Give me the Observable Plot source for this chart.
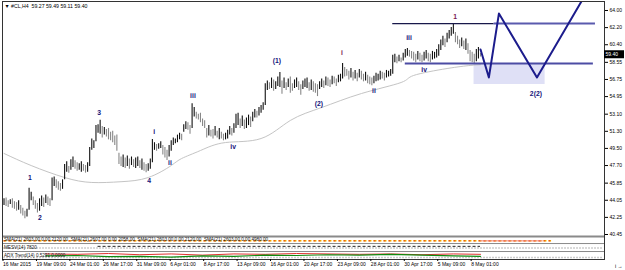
<!DOCTYPE html>
<html><head><meta charset="utf-8">
<script src="https://cdn.jsdelivr.net/npm/d3@7"></script>
<script src="https://cdn.jsdelivr.net/npm/@observablehq/plot@0.6"></script>
<style>body{margin:0;background:#fff}svg{display:block}</style>
</head><body><div id="chart"></div>
<script>
// ---- H4 bars (#CL), one entry per bar ----
const highs = [
44.2,44.3,44.0,44.1,44.2,43.9,43.8,44.0,43.5,43.2,42.9,43.1,
45.3,44.9,44.4,44.0,43.7,44.2,44.5,44.3,44.6,44.4,44.2,
46.4,46.5,46.2,46.0,45.8,46.2,
47.8,48.1,47.6,48.3,48.6,48.2,48.0,47.9,48.1,47.8,47.7,48.0,
49.6,50.5,50.3,51.9,52.0,52.45,
51.8,51.7,51.5,51.6,51.2,51.3,50.8,50.9,
49.0,48.6,48.8,48.5,48.7,48.4,48.6,48.3,48.5,48.6,48.2,48.4,48.0,47.8,47.9,
48.4,50.45,
50.1,49.9,50.0,50.2,49.8,49.6,49.3,
49.8,50.3,50.6,50.5,50.9,51.1,51.0,52.0,52.3,52.2,51.9,
54.2,
53.8,53.3,53.1,53.2,52.6,52.4,
51.6,51.9,51.4,51.5,51.8,51.3,51.6,51.2,51.0,51.1,
51.4,51.8,51.6,52.1,53.1,53.2,52.6,52.9,52.5,52.7,53.0,52.8,53.3,53.6,53.4,53.8,54.0,54.3,
56.3,
56.6,56.4,56.9,56.7,56.5,57.0,57.48,56.6,56.9,56.4,56.8,57.0,56.3,56.7,56.9,56.5,56.2,56.6,56.8,56.9,56.4,56.7,56.5,56.3,
56.2,
56.5,56.8,56.6,57.0,56.9,56.7,57.1,57.0,56.8,57.2,57.3,
58.43,
58.0,57.8,57.6,57.9,57.5,57.7,57.4,57.8,57.6,57.3,57.5,57.2,57.0,56.9,
57.1,57.4,57.3,57.6,57.5,57.4,57.7,57.6,57.8,
59.3,
59.4,59.1,59.3,59.0,59.5,
59.9,60.0,59.8,59.7,
59.6,59.4,59.7,59.5,59.3,59.6,59.8,59.5,59.4,59.7,59.6,59.9,
60.4,60.9,61.3,61.0,61.6,61.9,62.2,62.63,
61.7,61.3,60.9,61.1,60.8,61.0,60.5,
59.8,59.6,59.4,59.9,60.1,59.49
];
const lows = [
43.5,43.4,43.3,43.6,43.2,43.1,42.9,43.0,42.6,42.4,42.1,42.3,
43.0,44.0,43.5,43.1,42.7,42.9,43.4,43.3,43.7,43.5,43.4,
44.0,45.5,45.3,45.1,45.0,45.2,
46.2,47.0,46.9,47.2,47.5,47.3,47.1,47.2,47.0,47.1,46.9,47.0,
47.6,49.3,49.5,50.2,51.1,51.0,
50.6,50.9,50.7,50.4,50.3,50.1,49.8,49.2,
47.8,47.6,47.5,47.4,47.6,47.3,47.7,47.5,47.4,47.6,47.4,47.2,47.1,46.95,47.1,
47.3,48.0,
49.3,49.2,49.4,49.5,48.8,48.5,48.23,
48.6,49.2,49.8,50.0,50.1,50.4,50.3,51.2,51.5,51.4,51.0,
51.6,
52.8,52.6,52.5,52.2,51.8,51.6,
50.6,50.8,50.7,50.5,50.8,50.6,50.4,50.5,50.3,50.4,
50.5,50.9,50.8,51.1,51.6,51.9,51.6,51.8,51.5,51.6,51.9,51.7,52.3,52.7,52.7,52.9,53.2,53.5,
54.0,
55.6,55.7,55.8,55.5,55.7,56.0,55.9,55.2,55.8,55.6,55.9,55.3,55.5,55.8,55.9,55.6,55.1,55.7,55.9,55.8,55.5,55.6,55.4,55.3,
54.95,
55.7,55.9,55.8,56.1,56.0,55.9,56.2,56.3,56.0,56.4,56.5,
56.8,
57.0,57.1,56.7,56.9,56.6,56.8,56.5,56.9,56.7,56.5,56.6,56.3,56.2,56.1,
56.3,56.5,56.6,56.7,56.8,56.6,56.9,57.0,57.1,
57.3,
58.5,58.4,58.6,58.5,58.7,
59.0,59.2,59.1,58.9,
58.7,58.5,58.8,58.6,58.5,58.7,58.9,58.6,58.5,58.8,58.9,59.0,
59.2,59.8,60.3,60.1,60.6,61.0,61.3,61.5,
60.6,60.4,60.0,60.2,59.9,59.8,59.4,
58.6,58.5,58.4,58.6,58.9,59.11
];

// ---- moving average (grey) ----
const maIdx = [0,13,29,42,56,69,80,85,94,106,123,137,152,171,190,196,212,223,228];
const maVal = [48.97,47.7,46.44,45.92,46.0,46.44,47.7,48.44,49.28,50.12,50.54,52.44,53.8,55.27,56.43,57.17,57.9,58.22,58.3];

// ---- wave labels ----
const waveText  = ["1","2","3","4","i","ii","iii","iv","(1)","(2)","i","ii","iii","iv","1","2(2)"];
const waveIdx   = [12.4,17.2,45.5,69.4,71.8,79.4,90.4,109.6,130.6,150.7,161.7,177,193.8,201,215.8,254.5];
const wavePrice = [46.44,42.24,53.28,46.13,51.28,48.02,55.06,49.70,58.74,54.22,59.58,55.59,61.16,57.8,63.37,55.27];
const waveMinor = [false,false,false,false,false,false,false,false,false,false,true,false,false,false,true,false];

// ---- projection / levels ----
const projIdx   = [228,232,236.8,255,278];
const projPrice = [59.9,56.96,63.68,56.96,65.6];
const upperLevel = 62.63, lowerLevel = 58.43;
const upperThin = [186,234.5], upperThick = [234.5,283];
const lowerSpan = [192,282];
const zoneIdx = [224.9,258.9], zonePrice = [56.22,58.43];

// ---- axes ----
const dateLabels = ["16 Mar 2015","19 Mar 09:00","24 Mar 01:00","26 Mar 17:00","31 Mar 09:00","6 Apr 01:00","8 Apr 17:00","13 Apr 09:00","16 Apr 01:00","20 Apr 17:00","23 Apr 09:00","28 Apr 01:00","30 Apr 17:00","5 May 09:00","8 May 01:00"];
const dateIdx = [0,16,32,48,64,80,96,112,128,144,160,176,192,208,224];
const priceTicks = [64.00,62.20,60.40,58.55,56.75,54.95,53.10,51.30,49.50,47.70,45.85,44.05,42.25,40.45];
const lastPrice = 59.40;
const header = "▼ #CL,H4  59.27 59.49 59.11 59.40";

// ---- indicator sub-windows (value = fraction of the sub-window height from its top) ----
const panelTops = [40.24,39.50,38.66], panelBottoms = [39.50,38.66,37.82];
const panelText = ["SMA(21) 2603.00 0.00 2120.00  SMA(21) 2607.00 0.00 2058.00  SMA(21) 2603.00 0.00 2120.00  SMA(21) 2603.00 0.00 4980.00","MESV(14) 7820","ADX Trend(14) 0.5291 0.0000"];
const adxIdx = [20,35,50,65,80,95,110,125,140,155,170,185,200,215,228];
const adxGreen = [0.55,0.5,0.65,0.6,0.7,0.55,0.6,0.45,0.5,0.4,0.45,0.35,0.45,0.55,0.6];
const adxRed   = [0.3,0.35,0.25,0.4,0.3,0.45,0.3,0.35,0.25,0.3,0.35,0.3,0.4,0.3,0.35];

const bars = highs.map((h,i)=>({i, h, l: lows[i], dn: i>0 && (h+lows[i]) < (highs[i-1]+lows[i-1])}));
const ma = maIdx.map((i,k)=>({i, v: maVal[k]}));
const waves = waveText.map((t,k)=>({t, i: waveIdx[k], p: wavePrice[k], minor: waveMinor[k]}));
const proj = projIdx.map((i,k)=>({i, p: projPrice[k]}));
const pv = (k, f) => panelTops[k] - f*(panelTops[k]-panelBottoms[k]);
const green = adxIdx.map((i,k)=>({i, p: pv(2, adxGreen[k])}));
const red = adxIdx.map((i,k)=>({i, p: pv(2, adxRed[k])}));

const pxPerBar = 2.09;
const x0 = -0.72;
const xDomain = [x0, x0 + 602/pxPerBar];
const font = "Liberation Sans, Arial, sans-serif";

const chart = Plot.plot({
  width: 625, height: 270,
  marginLeft: 2, marginRight: 21, marginTop: 1, marginBottom: 11,
  style: {fontFamily: font, background: "#fff", overflow: "visible"},
  x: {domain: xDomain},
  y: {domain: [37.822, 64.946]},
  marks: [
    // sub-windows
    Plot.ruleY([panelTops[0]], {stroke: "#8a8a8a", strokeWidth: 2}),
    Plot.ruleY([panelTops[1], panelTops[2]], {stroke: "#8a8a8a", strokeWidth: 1}),
    Plot.ruleY([pv(0,0.62)], {x1: 0, x2: 262, stroke: "#ffd200", strokeWidth: 1.5, strokeDasharray: "3,2"}),
    Plot.ruleY([pv(0,0.62)], {x1: 0, x2: 262, stroke: "#e0201c", strokeWidth: 1, strokeDasharray: "2,3"}),
    Plot.ruleY([pv(0,0.62)], {x1: 228, x2: 258, stroke: "#f08080", strokeWidth: 1}),
    Plot.ruleY([pv(1,0.55)], {x1: 0, x2: 287, stroke: "#9a9a9a", strokeWidth: 1.5, strokeDasharray: "1,2"}),
    Plot.ruleY([pv(1,0.35)], {x1: 45, x2: 228, stroke: "#222", strokeWidth: 1, strokeDasharray: "3,2"}),
    Plot.ruleY([pv(2,0.75)], {x1: 0, x2: 287, stroke: "#9a9a9a", strokeWidth: 1.5, strokeDasharray: "1,2"}),
    Plot.line(red, {x: "i", y: "p", stroke: "#e03030", strokeWidth: 1}),
    Plot.line(green, {x: "i", y: "p", stroke: "#108a10", strokeWidth: 1.2}),
    Plot.text(panelText, {x: 0, y: (d,k)=>pv(k,0.45), text: d=>d, textAnchor: "start", fontSize: 4.6, fill: "#111"}),
    // target zone + levels
    Plot.rect([0], {x1: zoneIdx[0], x2: zoneIdx[1], y1: zonePrice[0], y2: zonePrice[1], fill: "#dfe0f6"}),
    // moving average
    Plot.line(ma, {x: "i", y: "v", stroke: "#c4c4c4", strokeWidth: 1, curve: "natural"}),
    // price bars
    Plot.ruleX(bars.filter(d=>!d.dn), {x: "i", y1: "l", y2: "h", stroke: "#111", strokeWidth: 1.1}),
    Plot.ruleX(bars.filter(d=>d.dn), {x: "i", y1: "l", y2: "h", stroke: "#888", strokeWidth: 1.1}),
    Plot.ruleY([upperLevel], {x1: upperThin[0], x2: upperThin[1], stroke: "#18184a", strokeWidth: 1.2}),
    Plot.ruleY([upperLevel], {x1: upperThick[0], x2: upperThick[1], stroke: "#5a5aae", strokeWidth: 2}),
    Plot.ruleY([lowerLevel], {x1: lowerSpan[0], x2: lowerSpan[1], stroke: "#4c4ca4", strokeWidth: 2}),
    Plot.line(proj, {x: "i", y: "p", stroke: "#1c1c8c", strokeWidth: 2, clip: true}),
    // wave labels
    Plot.text(waves.filter(d=>!d.minor), {x: "i", y: "p", text: "t", fill: "#14147a", fontWeight: "bold", fontSize: 6.8}),
    Plot.text(waves.filter(d=>d.minor), {x: "i", y: "p", text: "t", fill: "#7a1650", fontWeight: "bold", fontSize: 6.8}),
    // header
    Plot.text([header], {frameAnchor: "top-left", text: d=>d, dx: 2, dy: 3, lineAnchor: "top", fontSize: 5.2, fill: "#000"}),
    // frame
    Plot.frame({stroke: "#333", strokeWidth: 1}),
    // axes
    Plot.axisY({anchor: "right", ticks: priceTicks, tickFormat: d=>d.toFixed(2), tickSize: 3, tickPadding: 2, fontSize: 5, fill: "#000"}),
    Plot.axisX({anchor: "bottom", ticks: dateIdx, tickFormat: (d,k)=>dateLabels[k], textAnchor: "start", tickSize: 2, tickPadding: 1, fontSize: 5, fill: "#000", dx: -1}),
    Plot.ruleY([lastPrice], {x1: xDomain[1], x2: xDomain[1] + 20/pxPerBar, stroke: "#000", strokeWidth: 8, clip: false}),
    Plot.text([lastPrice], {x: xDomain[1] + 1/pxPerBar, y: d=>d, text: d=>d.toFixed(2), textAnchor: "start", fill: "#fff", fontSize: 5})
  ]
});
document.getElementById("chart").appendChild(chart);
</script>
</body></html>
